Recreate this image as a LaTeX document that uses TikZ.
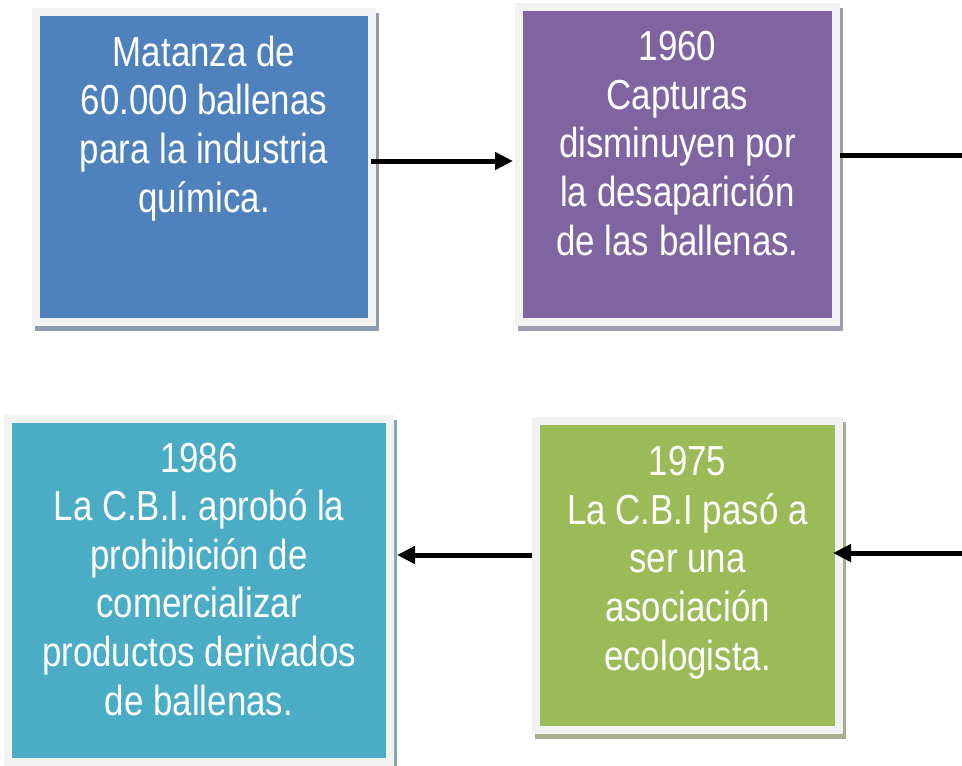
\documentclass[tikz,border=0pt]{standalone}
\usepackage{fontspec}
\setmainfont{Liberation Sans}[FakeStretch=0.83]
\usetikzlibrary{arrows.meta,backgrounds}
\definecolor{cblue}{HTML}{4F81BD}
\definecolor{cpurple}{HTML}{8064A2}
\definecolor{cteal}{HTML}{4BACC6}
\definecolor{cgreen}{HTML}{9BBB59}
\definecolor{framec}{HTML}{F2F2F2}
\definecolor{shblue}{HTML}{8E9BB1}
\definecolor{shpurple}{HTML}{A39BAE}
\definecolor{shteal}{HTML}{8AA8B3}
\definecolor{shgreen}{HTML}{A6AE8E}
\begin{document}
\begin{tikzpicture}[x=1pt,y=-1pt,
  boxnode/.style={draw=framec, line width=8pt, fill=#1, anchor=north west, inner sep=0pt},
  boxtext/.style={text=white, align=center, anchor=base, inner sep=0pt,
    font=\fontsize{42}{48.6}\selectfont},
  arr/.style={line width=5pt, -{Triangle[length=18pt,width=17pt]}},
  plainline/.style={line width=5pt}]
\useasboundingbox (0,0) rectangle (962,766);
\node[boxnode=cblue, minimum width=336pt, minimum height=310pt] (b1) at (32,8) {};
\node[boxnode=cpurple, minimum width=317pt, minimum height=315pt] (b2) at (515,3) {};
\node[boxnode=cteal, minimum width=382pt, minimum height=343pt] (b3) at (4,415) {};
\node[boxnode=cgreen, minimum width=303pt, minimum height=309pt] (b4) at (532,417) {};
\begin{scope}[on background layer]
  \fill[shblue] ([shift={(3pt,-5pt)}]b1.north west) rectangle ([shift={(3pt,-5pt)}]b1.south east);
  \fill[shpurple] ([shift={(3pt,-5pt)}]b2.north west) rectangle ([shift={(3pt,-5pt)}]b2.south east);
  \fill[shteal] ([shift={(3pt,-5pt)}]b3.north west) rectangle ([shift={(3pt,-5pt)}]b3.south east);
  \fill[shgreen] ([shift={(3pt,-5pt)}]b4.north west) rectangle ([shift={(3pt,-5pt)}]b4.south east);
\end{scope}
\node[boxtext] (t1) at (204,212) {Matanza de\\60.000 ballenas\\para la industria\\química.};
\node[boxtext] (t2) at (677.5,255) {1960\\Capturas\\disminuyen por\\la desaparición\\de las ballenas.};
\node[boxtext] (t3) at (199,715) {1986\\La C.B.I. aprobó la\\prohibición de\\comercializar\\productos derivados\\de ballenas.};
\node[boxtext] (t4) at (687.5,670) {1975\\La C.B.I pasó a\\ser una\\asociación\\ecologista.};
\coordinate (e1) at (962,155);
\coordinate (e2) at (962,553);
\draw[arr] ([shift={(-5pt,6pt)}]b1.east) -- ([shift={(-2pt,3.5pt)}]b2.west);
\draw[plainline] ([yshift=9.5pt]b2.east) -- (e1);
\draw[arr] (e2) -- ([shift={(-10pt,22.5pt)}]b4.east);
\draw[arr] ([yshift=20.5pt]b4.west) -- ([shift={(3pt,35.5pt)}]b3.east);
\end{tikzpicture}
\end{document}
